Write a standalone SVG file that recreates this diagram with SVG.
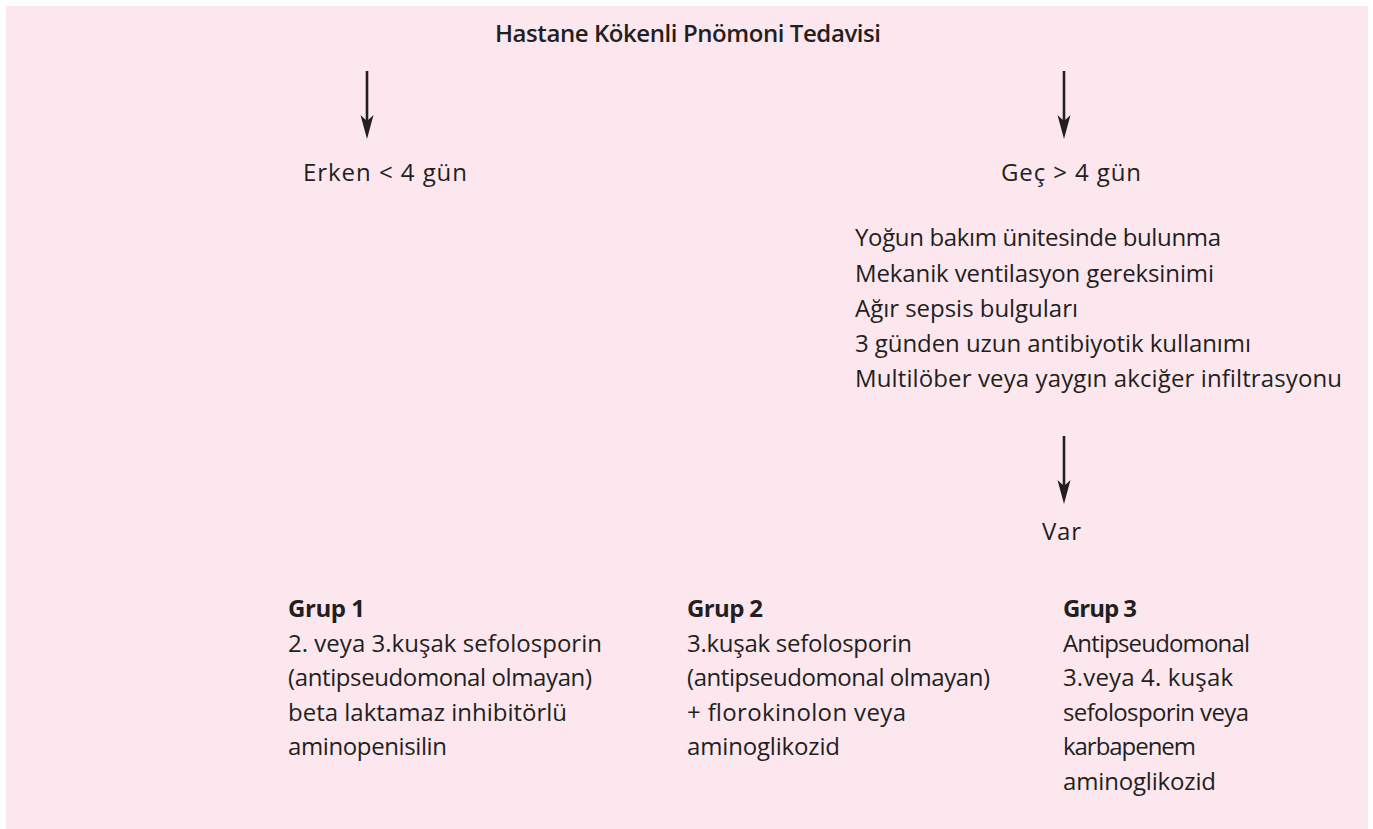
<svg xmlns="http://www.w3.org/2000/svg" width="1373" height="829" viewBox="0 0 1373 829">
<style>
  text { font-family: "Open Sans", "Noto Sans", "Liberation Sans", sans-serif; font-size: 24px; fill: #231f20; }
  .title { font-weight: 600; }
  .grp { font-weight: 700; }
  .conn { stroke: #231f20; stroke-width: 2.6; fill: none; }
</style>
<defs>
  <marker id="ah" markerUnits="userSpaceOnUse" markerWidth="26" markerHeight="15" viewBox="-8 -7.5 26 15" refX="0" refY="0" orient="auto">
    <path d="M17,0 L-7,-6.5 L-1,0 L-7,6.5 Z" fill="#231f20"/>
  </marker>
</defs>
<rect x="6" y="6" width="1362" height="823" fill="#fce7ef"/>

<g id="connectors">
  <line class="conn" x1="367" y1="71" x2="367" y2="122" marker-end="url(#ah)"/>
  <line class="conn" x1="1064" y1="71" x2="1064" y2="122" marker-end="url(#ah)"/>
  <line class="conn" x1="1064" y1="436" x2="1064" y2="487" marker-end="url(#ah)"/>
</g>

<g id="title">
  <text class="title" x="495" y="42" textLength="386" lengthAdjust="spacing">Hastane Kökenli Pnömoni Tedavisi</text>
</g>

<g id="early">
  <text x="303" y="181" textLength="164" lengthAdjust="spacing">Erken &lt; 4 gün</text>
</g>

<g id="late">
  <text x="1001" y="181" textLength="140" lengthAdjust="spacing">Geç &gt; 4 gün</text>
</g>

<g id="criteria">
  <text x="855" y="246" textLength="366" lengthAdjust="spacing">Yoğun bakım ünitesinde bulunma</text>
  <text x="855" y="281.5" textLength="359" lengthAdjust="spacing">Mekanik ventilasyon gereksinimi</text>
  <text x="855" y="316.5" textLength="223" lengthAdjust="spacing">Ağır sepsis bulguları</text>
  <text x="855" y="351.5" textLength="396" lengthAdjust="spacing">3 günden uzun antibiyotik kullanımı</text>
  <text x="855" y="386.5" textLength="487" lengthAdjust="spacing">Multilöber veya yaygın akciğer infiltrasyonu</text>
</g>

<g id="var">
  <text x="1042" y="540" textLength="39" lengthAdjust="spacing">Var</text>
</g>

<g id="grup1">
  <text class="grp" x="288" y="617" textLength="77" lengthAdjust="spacing">Grup 1</text>
  <text x="288" y="651.5" textLength="314" lengthAdjust="spacing">2. veya 3.kuşak sefolosporin</text>
  <text x="288" y="686" textLength="304" lengthAdjust="spacing">(antipseudomonal olmayan)</text>
  <text x="288" y="720.5" textLength="279" lengthAdjust="spacing">beta laktamaz inhibitörlü</text>
  <text x="288" y="755" textLength="159" lengthAdjust="spacing">aminopenisilin</text>
</g>

<g id="grup2">
  <text class="grp" x="687" y="617" textLength="76" lengthAdjust="spacing">Grup 2</text>
  <text x="687" y="651.5" textLength="225" lengthAdjust="spacing">3.kuşak sefolosporin</text>
  <text x="687" y="686" textLength="303" lengthAdjust="spacing">(antipseudomonal olmayan)</text>
  <text x="687" y="720.5" textLength="219" lengthAdjust="spacing">+ florokinolon veya</text>
  <text x="687" y="755" textLength="153" lengthAdjust="spacing">aminoglikozid</text>
</g>

<g id="grup3">
  <text class="grp" x="1063" y="617" textLength="74" lengthAdjust="spacing">Grup 3</text>
  <text x="1063" y="651.5" textLength="187" lengthAdjust="spacing">Antipseudomonal</text>
  <text x="1063" y="686" textLength="170" lengthAdjust="spacing">3.veya 4. kuşak</text>
  <text x="1063" y="720.5" textLength="186" lengthAdjust="spacing">sefolosporin veya</text>
  <text x="1063" y="755" textLength="133" lengthAdjust="spacing">karbapenem</text>
  <text x="1063" y="789.5" textLength="153" lengthAdjust="spacing">aminoglikozid</text>
</g>
</svg>
